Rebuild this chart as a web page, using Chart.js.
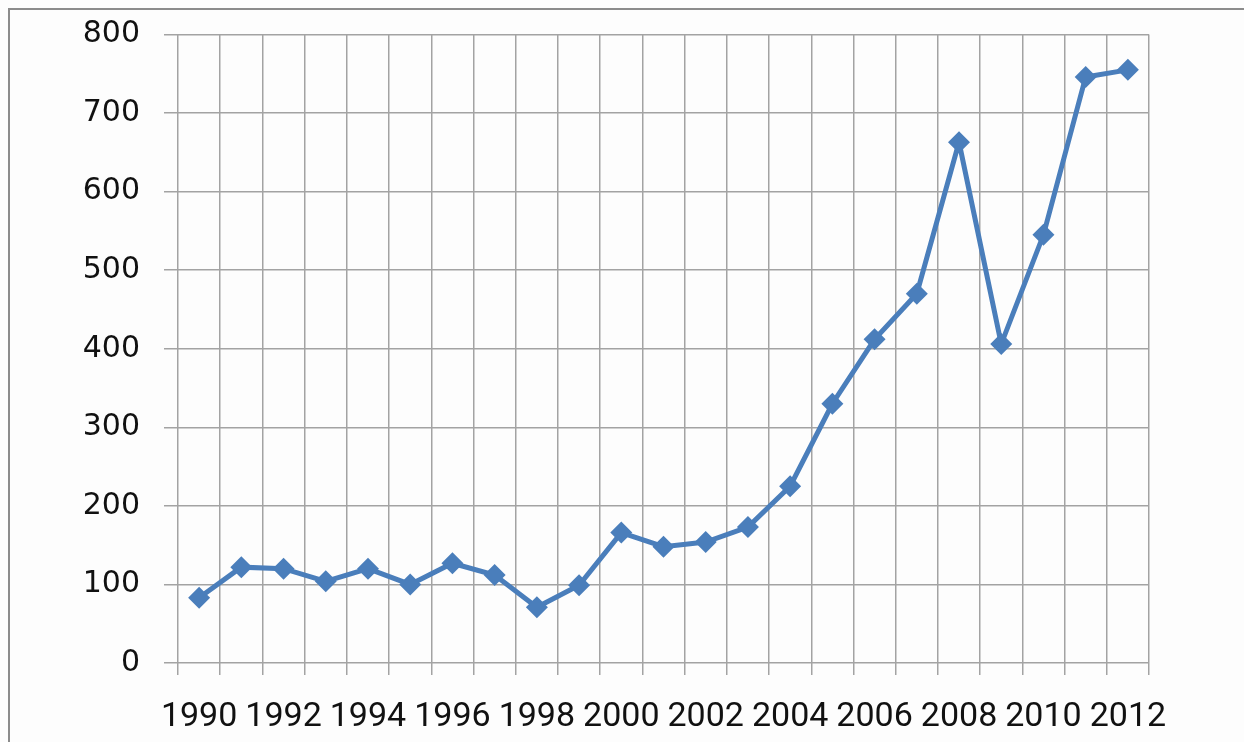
<!DOCTYPE html>
<html>
<head>
<meta charset="utf-8">
<script src="https://cdn.jsdelivr.net/npm/chart.js@4/dist/chart.umd.min.js"></script>
<style>
    html, body { margin: 0; padding: 0; background: #fdfdfd; }
    #wrap { position: relative; width: 1244px; height: 742px; overflow: hidden; }
    #frame {
        position: absolute; left: 8px; top: 8px; width: 1300px; height: 800px;
        border: 2px solid #8c8c8c; box-sizing: border-box;
    }
    canvas { position: absolute; left: 0; top: 0; }
</style>
</head>
<body>
<div id="wrap">
    <div id="frame"></div>
    <canvas id="trendChart" width="1244" height="742"></canvas>
</div>
<script>
// Yearly values, 1990 - 2012
const years = ['1990', '1991', '1992', '1993', '1994', '1995', '1996', '1997', '1998', '1999', '2000', '2001',
    '2002', '2003', '2004', '2005', '2006', '2007', '2008', '2009', '2010', '2011', '2012'];
const values = [83, 122, 120, 104, 120, 100, 127, 112, 71, 99, 166, 148,
    154, 173, 225, 330, 412, 470, 663, 406, 545, 746, 755];
const yTicks = [0, 100, 200, 300, 400, 500, 600, 700, 800];

const lineColor = '#4a7ebb';
const gridColor = '#a3a3a3';

document.addEventListener('DOMContentLoaded', function() {
    const ctx = document.getElementById('trendChart');
    new Chart(ctx, {
        type: 'line',
        data: {
            labels: years,
            datasets: [{
                data: values,
                borderColor: lineColor,
                backgroundColor: lineColor,
                borderWidth: 5,
                pointStyle: 'rectRot',
                pointRadius: 11,
                pointBorderWidth: 0,
                tension: 0
            }]
        },
        options: {
            responsive: false,
            animation: false,
            layout: {
                padding: { left: 0, right: 95, top: 20, bottom: 0 }
            },
            plugins: {
                legend: { display: false },
                tooltip: { enabled: false }
            },
            scales: {
                x: {
                    offset: true,
                    border: { display: false },
                    grid: {
                        offset: true,
                        color: gridColor,
                        lineWidth: 1.5,
                        tickLength: 12
                    },
                    ticks: {
                        autoSkip: false,
                        maxRotation: 0,
                        padding: 22,
                        color: '#111',
                        font: { family: 'Roboto', size: 34 },
                        // every other year gets a label
                        callback: function(value, index) {
                            return index % 2 === 0 ? years[index] : '';
                        }
                    },
                    afterFit: function(scale) {
                        scale.height = 79;
                    }
                },
                y: {
                    min: 0,
                    max: 800,
                    border: { display: false },
                    grid: {
                        color: gridColor,
                        lineWidth: 1.5,
                        tickLength: 14
                    },
                    afterBuildTicks: function(scale) {
                        scale.ticks = yTicks.map(v => ({ value: v }));
                    },
                    ticks: {
                        padding: 24,
                        color: '#111',
                        // small lineHeight keeps the top label from pushing the plot down
                        font: { family: "'DejaVu Sans'", size: 30, lineHeight: 0.7 }
                    },
                    afterFit: function(scale) {
                        scale.width = 178;
                    }
                }
            }
        }
    });
});
</script>
</body>
</html>
